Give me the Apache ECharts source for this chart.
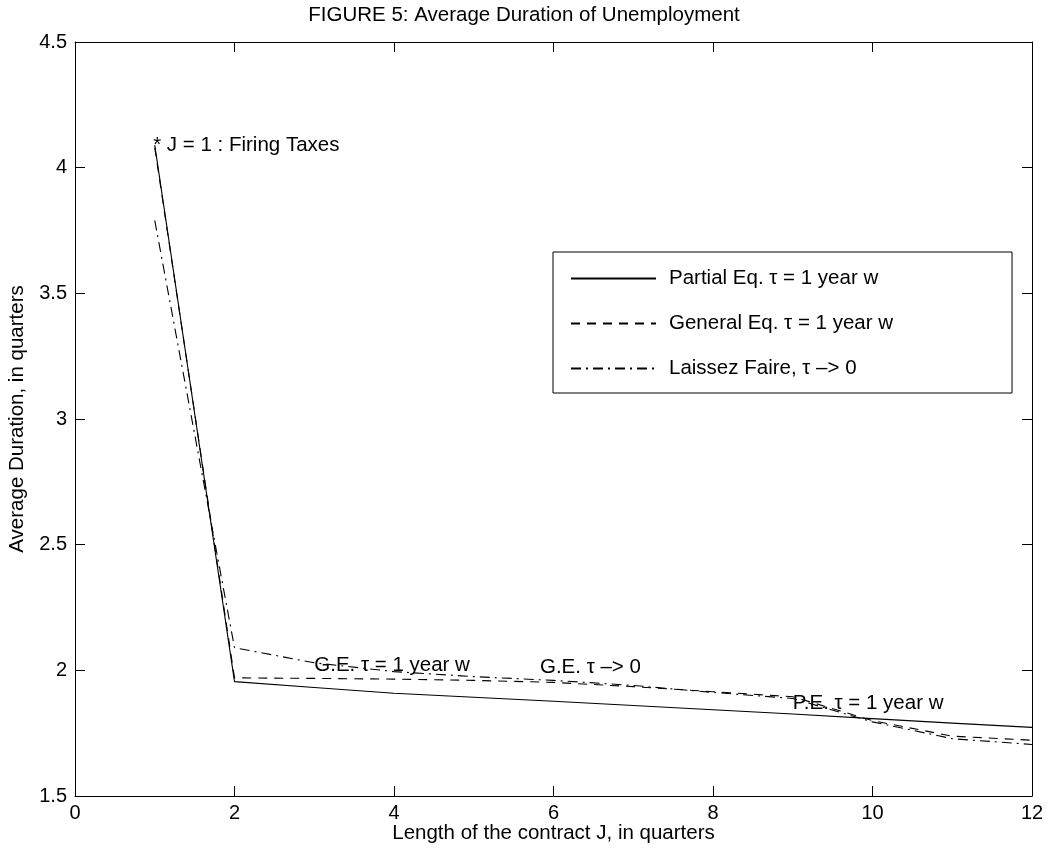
<!DOCTYPE html>
<html>
<head>
<meta charset="utf-8">
<script src="https://cdn.jsdelivr.net/npm/echarts@6/dist/echarts.min.js"></script>
<style>
  html, body { margin: 0; padding: 0; background: #fff; }
  #chart { width: 1048px; height: 853px; }
</style>
</head>
<body>
<div id="chart"></div>
<script>
// Contract length J (quarters)
const contractJ = [1, 2, 3, 4, 5, 6, 7, 8, 9, 10, 11, 12];

// Average unemployment duration, in quarters
const partialEq = [4.09, 1.955, 1.932, 1.909, 1.893, 1.877, 1.860, 1.843, 1.826, 1.808, 1.790, 1.773];
const generalEq = [4.08, 1.970, 1.968, 1.965, 1.960, 1.952, 1.935, 1.915, 1.895, 1.800, 1.738, 1.722];
const laissezFaire = [3.79, 2.090, 2.030, 1.995, 1.975, 1.960, 1.940, 1.912, 1.888, 1.795, 1.728, 1.705];

const seriesNames = ['Partial Eq. τ = 1 year w', 'General Eq. τ = 1 year w', 'Laissez Faire, τ –> 0'];

// In-plot notes: [J, duration, text] (left edge, vertical middle)
const notes = [
  [0.98, 4.09, '* J = 1 : Firing Taxes'],
  [3.0, 2.02, 'G.E. τ = 1 year w'],
  [5.83, 2.01, 'G.E. τ –> 0'],
  [9.0, 1.868, 'P.E. τ = 1 year w']
];

const xTicks = { min: 0, max: 12, step: 2 };
const yTicks = { min: 1.5, max: 4.5, step: 0.5 };

const FONT = 'Liberation Sans, Arial, Helvetica, sans-serif';
const FS = 20.5;
const TICK_FS = 20;

const pair = (ys) => contractJ.map((j, i) => [j, ys[i]]);

const chart = echarts.init(document.getElementById('chart'), null, { renderer: 'canvas' });

const baseX = {
  type: 'value', min: xTicks.min, max: xTicks.max, interval: xTicks.step,
  axisLine: { show: true, onZero: false, lineStyle: { color: '#000', width: 1 } },
  axisTick: { show: true, inside: true, length: 10, lineStyle: { color: '#000' } },
  splitLine: { show: false }
};
const baseY = {
  type: 'value', min: yTicks.min, max: yTicks.max, interval: yTicks.step,
  axisLine: { show: true, onZero: false, lineStyle: { color: '#000', width: 1 } },
  axisTick: { show: true, inside: true, length: 10, lineStyle: { color: '#000' } },
  splitLine: { show: false }
};

const lineSeries = (name, data, type) => ({
  name, type: 'line', data: pair(data),
  xAxisIndex: 0, yAxisIndex: 0,
  symbol: 'none', smooth: false, clip: true,
  lineStyle: { color: '#000', width: 1.1, type },
  itemStyle: { color: '#000' },
  emphasis: { disabled: true },
  z: 3
});

chart.setOption({
  animation: false,
  backgroundColor: '#fff',
  textStyle: { fontFamily: FONT, color: '#000' },
  title: {
    text: 'FIGURE 5: Average Duration of Unemployment',
    left: 'center', top: 0,
    textStyle: { fontFamily: FONT, fontSize: FS, fontWeight: 'normal', color: '#000' }
  },
  grid: { left: 75, right: 16, top: 42, bottom: 57, containLabel: false, outerBoundsMode: 'none' },
  legend: {
    data: seriesNames,
    orient: 'vertical',
    left: 553, top: 252,
    itemWidth: 85, itemHeight: 14, itemGap: 24,
    padding: [16, 119, 14, 17],
    borderColor: '#000', borderWidth: 1, backgroundColor: '#fff',
    selectedMode: false,
    itemStyle: { color: 'transparent', borderColor: 'transparent', borderWidth: 0, opacity: 0 },
    textStyle: { fontFamily: FONT, fontSize: FS, lineHeight: 20, color: '#000', padding: [0, 0, 0, 8] }
  },
  xAxis: [
    Object.assign({}, baseX, {
      position: 'bottom',
      name: 'Length of the contract J, in quarters',
      nameLocation: 'middle', nameGap: 27, nameMoveOverlap: false,
      nameTextStyle: { fontFamily: FONT, fontSize: FS, color: '#000' },
      axisLabel: { fontFamily: FONT, fontSize: TICK_FS, color: '#000', margin: 7 }
    }),
    Object.assign({}, baseX, { position: 'top', axisLabel: { show: false } })
  ],
  yAxis: [
    Object.assign({}, baseY, {
      position: 'left',
      name: 'Average Duration, in quarters',
      nameLocation: 'middle', nameGap: 46,
      nameTextStyle: { fontFamily: FONT, fontSize: FS, color: '#000' },
      axisLabel: { fontFamily: FONT, fontSize: TICK_FS, color: '#000', margin: 8 }
    }),
    Object.assign({}, baseY, { position: 'right', axisLabel: { show: false } })
  ],
  series: [
    lineSeries(seriesNames[0], partialEq, 'solid'),
    lineSeries(seriesNames[1], generalEq, [9, 7]),
    lineSeries(seriesNames[2], laissezFaire, [10, 5, 2, 5]),
    {
      name: 'notes', type: 'scatter',
      xAxisIndex: 0, yAxisIndex: 0,
      symbolSize: 0,
      itemStyle: { opacity: 1, color: '#000' },
      data: notes.map(n => ({ value: [n[0], n[1]], name: n[2] })),
      label: {
        show: true, position: 'right', distance: 0,
        formatter: p => p.name,
        fontFamily: FONT, fontSize: FS, color: '#000', opacity: 1
      },
      emphasis: { disabled: true },
      silent: true,
      z: 4
    }
  ]
});
</script>
</body>
</html>
